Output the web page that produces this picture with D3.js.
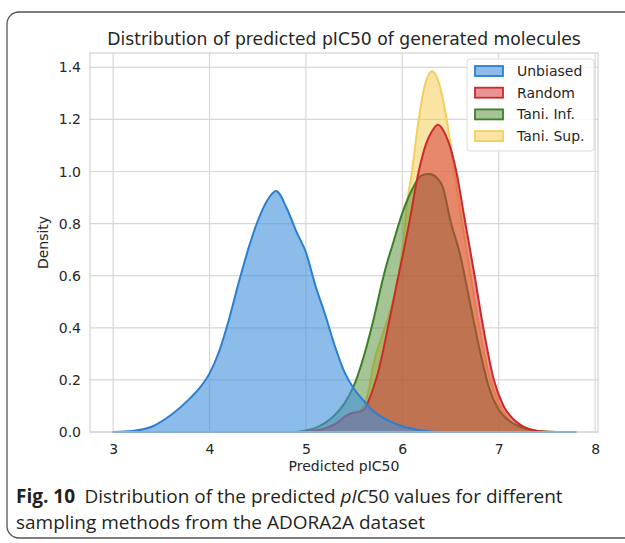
<!DOCTYPE html>
<html>
<head>
<meta charset="utf-8">
<script src="https://cdn.jsdelivr.net/npm/d3@7"></script>
<style>
  body { margin: 0; background: #fff; }
  svg { display: block; }
</style>
</head>
<body>
<svg id="chart" width="625" height="543"></svg>
<script>
// density curves, [pIC50, density]
const unbiased = [[3.0,0],[3.2,0.004],[3.4,0.02],[3.6,0.065],[3.8,0.13],[3.9,0.17],[4.0,0.225],[4.1,0.31],[4.2,0.43],[4.3,0.57],[4.4,0.70],[4.5,0.81],[4.6,0.89],[4.69,0.925],[4.8,0.86],[4.9,0.77],[5.0,0.69],[5.1,0.56],[5.2,0.45],[5.3,0.33],[5.4,0.23],[5.5,0.165],[5.6,0.12],[5.7,0.08],[5.8,0.055],[5.9,0.036],[6.0,0.022],[6.2,0.006],[6.4,0],[7.8,0]];
const random = [[5.0,0],[5.1,0.005],[5.2,0.014],[5.3,0.03],[5.4,0.058],[5.47,0.072],[5.55,0.077],[5.6,0.085],[5.65,0.12],[5.7,0.17],[5.75,0.23],[5.8,0.31],[5.85,0.40],[5.9,0.49],[5.96,0.60],[6.0,0.67],[6.07,0.80],[6.17,1.0],[6.25,1.11],[6.3,1.15],[6.37,1.18],[6.45,1.14],[6.5,1.09],[6.56,1.0],[6.65,0.81],[6.75,0.6],[6.84,0.4],[6.95,0.2],[7.05,0.1],[7.15,0.05],[7.25,0.022],[7.35,0.008],[7.45,0.002],[7.55,0]];
const taniInf = [[4.9,0],[5.0,0.006],[5.1,0.016],[5.2,0.035],[5.3,0.065],[5.4,0.11],[5.5,0.18],[5.6,0.29],[5.7,0.43],[5.8,0.59],[5.85,0.66],[5.9,0.72],[6.0,0.84],[6.1,0.93],[6.2,0.985],[6.28,0.99],[6.36,0.975],[6.42,0.94],[6.5,0.81],[6.6,0.68],[6.7,0.50],[6.8,0.32],[6.9,0.17],[7.0,0.085],[7.1,0.045],[7.2,0.024],[7.3,0.011],[7.4,0.004],[7.6,0]];
const taniSup = [[5.0,0],[5.1,0.005],[5.2,0.013],[5.3,0.028],[5.4,0.055],[5.5,0.075],[5.55,0.08],[5.6,0.1],[5.65,0.16],[5.7,0.26],[5.8,0.38],[5.9,0.5],[6.0,0.7],[6.05,0.88],[6.1,1.0],[6.17,1.2],[6.24,1.34],[6.31,1.385],[6.38,1.34],[6.46,1.2],[6.54,1.0],[6.6,0.85],[6.7,0.62],[6.8,0.4],[6.9,0.22],[7.0,0.11],[7.1,0.05],[7.2,0.02],[7.3,0.008],[7.4,0.002],[7.5,0]];

const seriesNames = ['Unbiased', 'Random', 'Tani. Inf.', 'Tani. Sup.'];
const xTicks = [3, 4, 5, 6, 7, 8];
const yTicks = [0.0, 0.2, 0.4, 0.6, 0.8, 1.0, 1.2, 1.4];

const series = [
    { name: seriesNames[0], data: unbiased, stroke: '#2b7fcf', fill: '#3f8fdc', op: 0.6 },
    { name: seriesNames[1], data: random, stroke: '#cc2a2a', fill: '#d83a3c', op: 0.55 },
    { name: seriesNames[2], data: taniInf, stroke: '#3d7f27', fill: '#4d8c30', op: 0.5 },
    { name: seriesNames[3], data: taniSup, stroke: '#f2cf5b', fill: '#f4c94a', op: 0.5 }
];

const svg = d3.select('#chart');
const plotL = 90, plotR = 598, plotT = 53, plotB = 432;
const textColor = '#262626';

// outer figure frame
svg.append('rect')
    .attr('x', 7).attr('y', 12)
    .attr('width', 640).attr('height', 526)
    .attr('rx', 12)
    .attr('fill', 'none')
    .attr('stroke', '#555')
    .attr('stroke-width', 1.3);

const x = d3.scaleLinear().domain([2.76, 8.03]).range([plotL, plotR]);
const y = d3.scaleLinear().domain([0, 1.455]).range([plotB, plotT]);

// grid
const grid = svg.append('g');
grid.selectAll('line.gx')
    .data(xTicks)
    .join('line')
    .attr('class', 'gx')
    .attr('x1', d => x(d)).attr('x2', d => x(d))
    .attr('y1', plotT).attr('y2', plotB)
    .attr('stroke', '#d6d6d6').attr('stroke-width', 1.2);
grid.selectAll('line.gy')
    .data(yTicks)
    .join('line')
    .attr('class', 'gy')
    .attr('x1', plotL).attr('x2', plotR)
    .attr('y1', d => y(d)).attr('y2', d => y(d))
    .attr('stroke', '#d6d6d6').attr('stroke-width', 1.2);

// densities, last legend entry drawn first
const area = d3.area()
    .x(d => x(d[0]))
    .y0(y(0))
    .y1(d => y(d[1]))
    .curve(d3.curveMonotoneX);

svg.append('g')
    .selectAll('path')
    .data(series.slice().reverse())
    .join('path')
    .attr('d', d => area(d.data))
    .attr('fill', d => d.fill)
    .attr('fill-opacity', d => d.op)
    .attr('stroke', d => d.stroke)
    .attr('stroke-width', 2)
    .attr('stroke-linejoin', 'round');

// frame of axes
svg.append('rect')
    .attr('x', plotL).attr('y', plotT)
    .attr('width', plotR - plotL).attr('height', plotB - plotT)
    .attr('fill', 'none')
    .attr('stroke', '#d0d0d0')
    .attr('stroke-width', 1.2);

// axes (labels only, whitegrid style)
const xAxis = svg.append('g')
    .attr('transform', `translate(0,${plotB})`)
    .call(d3.axisBottom(x).tickValues(xTicks).tickSize(0).tickPadding(12).tickFormat(d3.format('d')));
const yAxis = svg.append('g')
    .attr('transform', `translate(${plotL},0)`)
    .call(d3.axisLeft(y).tickValues(yTicks).tickSize(0).tickPadding(9).tickFormat(d3.format('.1f')));
[xAxis, yAxis].forEach(a => {
    a.select('.domain').remove();
    a.selectAll('text')
        .attr('fill', textColor)
        .style('font-family', 'DejaVu Sans')
        .style('font-size', '14px');
});

svg.append('text')
    .attr('x', (plotL + plotR) / 2).attr('y', 471)
    .attr('text-anchor', 'middle')
    .attr('fill', textColor)
    .style('font-family', 'DejaVu Sans').style('font-size', '14px')
    .text('Predicted pIC50');

svg.append('text')
    .attr('transform', `translate(48,${(plotT + plotB) / 2}) rotate(-90)`)
    .attr('text-anchor', 'middle')
    .attr('fill', textColor)
    .style('font-family', 'DejaVu Sans').style('font-size', '14px')
    .text('Density');

svg.append('text')
    .attr('x', 344).attr('y', 45)
    .attr('text-anchor', 'middle')
    .attr('fill', textColor)
    .style('font-family', 'DejaVu Sans').style('font-size', '17.2px')
    .text('Distribution of predicted pIC50 of generated molecules');

// legend
const legend = svg.append('g').attr('transform', 'translate(467,59)');
legend.append('rect')
    .attr('width', 127).attr('height', 92)
    .attr('rx', 3)
    .attr('fill', '#fff').attr('fill-opacity', 0.85)
    .attr('stroke', '#dcdcdc');
const item = legend.selectAll('g')
    .data(series)
    .join('g')
    .attr('transform', (d, i) => `translate(8,${12 + i * 21.7})`);
item.append('rect')
    .attr('y', -5).attr('width', 28).attr('height', 10)
    .attr('fill', d => d.fill).attr('fill-opacity', d => d.op)
    .attr('stroke', d => d.stroke).attr('stroke-width', 1.8);
item.append('text')
    .attr('x', 42).attr('dy', '0.35em')
    .attr('fill', textColor)
    .style('font-family', 'DejaVu Sans').style('font-size', '14px')
    .text(d => d.name);

// caption
const cap = svg.append('g')
    .style('font-family', 'Open Sans')
    .style('font-size', '19px')
    .attr('fill', '#231f20');
const line1 = cap.append('text').attr('x', 0).attr('y', 0);
line1.append('tspan').style('font-weight', 'bold').text('Fig. 10');
line1.append('tspan').text('\u2002Distribution of the predicted ');
line1.append('tspan').style('font-style', 'italic').text('pIC');
line1.append('tspan').text('50 values for different');
const line2 = cap.append('text').attr('x', 0).attr('y', 26)
    .text('sampling methods from the ADORA2A dataset');
const sx = 547 / line1.node().getComputedTextLength();
line1.attr('transform', `translate(16,503) scale(${sx},1)`);
line2.attr('transform', `translate(16,503) scale(${sx},1)`);
</script>
</body>
</html>
